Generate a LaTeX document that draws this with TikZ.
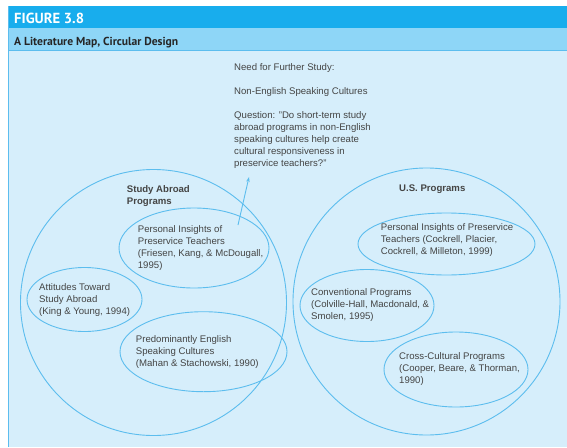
\documentclass[tikz,border=0pt]{standalone}
\usepackage{fontspec}
\setmainfont{Liberation Sans}
\newfontfamily\headfont{PT Sans}
\usetikzlibrary{shapes.geometric,arrows.meta}
\definecolor{bandA}{HTML}{18ADED}
\definecolor{bandB}{HTML}{8ED6F7}
\definecolor{bodybg}{HTML}{D6EEFB}
\definecolor{ringcol}{HTML}{5CBDEE}
\definecolor{txtcol}{HTML}{444444}
\tikzset{
  ring/.style={draw=ringcol, line width=0.9pt, circle, inner sep=0pt},
  oval/.style={draw=ringcol, line width=0.9pt, ellipse, inner sep=0pt},
  lbl/.style={anchor=north west, inner sep=0pt, align=left, text=txtcol,
    font=\fontsize{9.6}{12}\selectfont},
  blbl/.style={lbl, font=\fontsize{9.6}{12}\selectfont\bfseries},
  conn/.style={draw=ringcol, line width=0.9pt, -{Stealth[length=5pt,width=3.5pt]}}
}
\begin{document}
\begin{tikzpicture}[x=1pt,y=-1pt]
\useasboundingbox (0,0) rectangle (567,447);
\fill[white] (0,0) rectangle (567,447);
% frame bands
\fill[bandA] (8,6) rectangle (567,28);
\fill[bandB] (8,28) rectangle (567,50);
\fill[bodybg] (8,50) rectangle (567,447);
\draw[ringcol, line width=0.8pt] (8,50) -- (567,50);
\draw[ringcol, line width=0.8pt] (8.4,6) -- (8.4,447);
\node[anchor=base west, inner sep=0pt, text=white, font=\headfont\fontsize{14.6}{15}\selectfont\bfseries] (fig) at (14,23.3) {FIGURE 3.8};
\node[anchor=base west, inner sep=0pt, text=black!85, font=\headfont\fontsize{11.6}{12}\selectfont\bfseries] (title) at (14,45) {A Literature Map, Circular Design};
% big circles
\node[ring, minimum size=266pt] (leftc) at (153.5,302.5) {};
\node[ring, minimum size=267pt] (rightc) at (426.5,301.5) {};
% ellipses left
\node[oval, minimum width=150pt, minimum height=80pt] (l1) at (194,248) {};
\node[oval, minimum width=115pt, minimum height=64pt] (l2) at (84.5,299.5) {};
\node[oval, minimum width=167pt, minimum height=80pt] (l3) at (203.5,351.7) {};
% ellipses right
\node[oval, minimum width=177pt, minimum height=62pt] (r1) at (446.5,244) {};
\node[oval, minimum width=134pt, minimum height=72pt] (r2) at (367,305.5) {};
\node[oval, minimum width=144pt, minimum height=75pt] (r3) at (456,369.5) {};
% texts
\node[lbl] (need) at (234,63.7) {Need for Further Study:\\[12pt]Non-English Speaking Cultures\\[12pt]Question: "Do short-term study\\abroad programs in non-English\\speaking cultures help create\\cultural responsiveness in\\preservice teachers?"};
\node[blbl] (sa) at (126.7,185) {Study Abroad\\Programs};
\node[lbl] (t1) at (137.7,225.3) {Personal Insights of\\Preservice Teachers\\(Friesen, Kang, \& McDougall,\\1995)};
\node[lbl] (t2) at (39,283.7) {Attitudes Toward\\Study Abroad\\(King \& Young, 1994)};
\node[lbl] (t3) at (135.7,335) {Predominantly English\\Speaking Cultures\\(Mahan \& Stachowski, 1990)};
\node[blbl] (us) at (399,184.7) {U.S. Programs};
\node[lbl] (t4) at (380.7,223) {Personal Insights of Preservice\\Teachers (Cockrell, Placier,\\Cockrell, \& Milleton, 1999)};
\node[lbl] (t5) at (311,288) {Conventional Programs\\(Colville-Hall, Macdonald, \&\\Smolen, 1995)};
\node[lbl] (t6) at (399,352.3) {Cross-Cultural Programs\\(Cooper, Beare, \& Thorman,\\1990)};
% arrow
\coordinate (astart) at (238,225);
\coordinate (aend) at (249,177);
\draw[conn] (astart) -- (aend);
\end{tikzpicture}
\end{document}
